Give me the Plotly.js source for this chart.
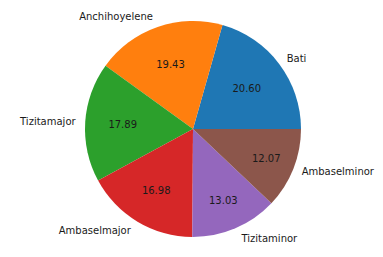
<!DOCTYPE html>
<html><head><meta charset="utf-8">
<script src="https://cdn.plot.ly/plotly-3.0.1.min.js"></script>
<style>html,body{margin:0;padding:0;background:#fff}</style>
</head><body><div id="c" style="width:383px;height:257px"></div>
<script>
const labels = ["Bati", "Anchihoyelene", "Tizitamajor", "Ambaselmajor", "Tizitaminor", "Ambaselminor"];
const values = [20.60, 19.43, 17.89, 16.98, 13.03, 12.07];
const colors = ["#1f77b4", "#ff7f0e", "#2ca02c", "#d62728", "#9467bd", "#8c564b"];

const total = values.reduce((a, b) => a + b, 0);
// Plotly anchors the END of the first slice at the rotation angle for counterclockwise pies;
// shift so the first slice STARTS at 3 o'clock like the reference.
const rot = 90 - values[0] / total * 360;

const W = 383, H = 257, cx = 193, cy = 129, R = 108, Rout = 114;
const dom = {x: [(cx - R) / W, (cx + R) / W], y: [1 - (cy + R) / H, 1 - (cy - R) / H]};
const domOut = {x: [(cx - Rout) / W, (cx + Rout) / W], y: [1 - (cy + Rout) / H, 1 - (cy - Rout) / H]};
const font = {family: "DejaVu Sans", size: 10, color: "#1a1a1a"};
const inner = {
  type: "pie", labels: labels, values: values, sort: false,
  direction: "counterclockwise", rotation: rot,
  marker: {colors: colors, line: {width: 0}},
  texttemplate: values.map(v => v.toFixed(2)), textposition: "inside",
  insidetextorientation: "horizontal", insidetextfont: font,
  hoverinfo: "none", showlegend: false, domain: dom
};
const outer = {
  type: "pie", labels: labels, values: values, sort: false,
  direction: "counterclockwise", rotation: rot,
  marker: {colors: colors.map(() => "rgba(0,0,0,0)"), line: {width: 0}},
  textinfo: "label", textposition: "outside", outsidetextfont: font,
  hoverinfo: "none", showlegend: false, domain: domOut, automargin: false
};
Plotly.newPlot("c", [inner, outer], {
  width: W, height: H, margin: {l: 0, r: 0, t: 0, b: 0},
  paper_bgcolor: "#fff", plot_bgcolor: "#fff", showlegend: false
}, {staticPlot: true, displayModeBar: false});
</script></body></html>
